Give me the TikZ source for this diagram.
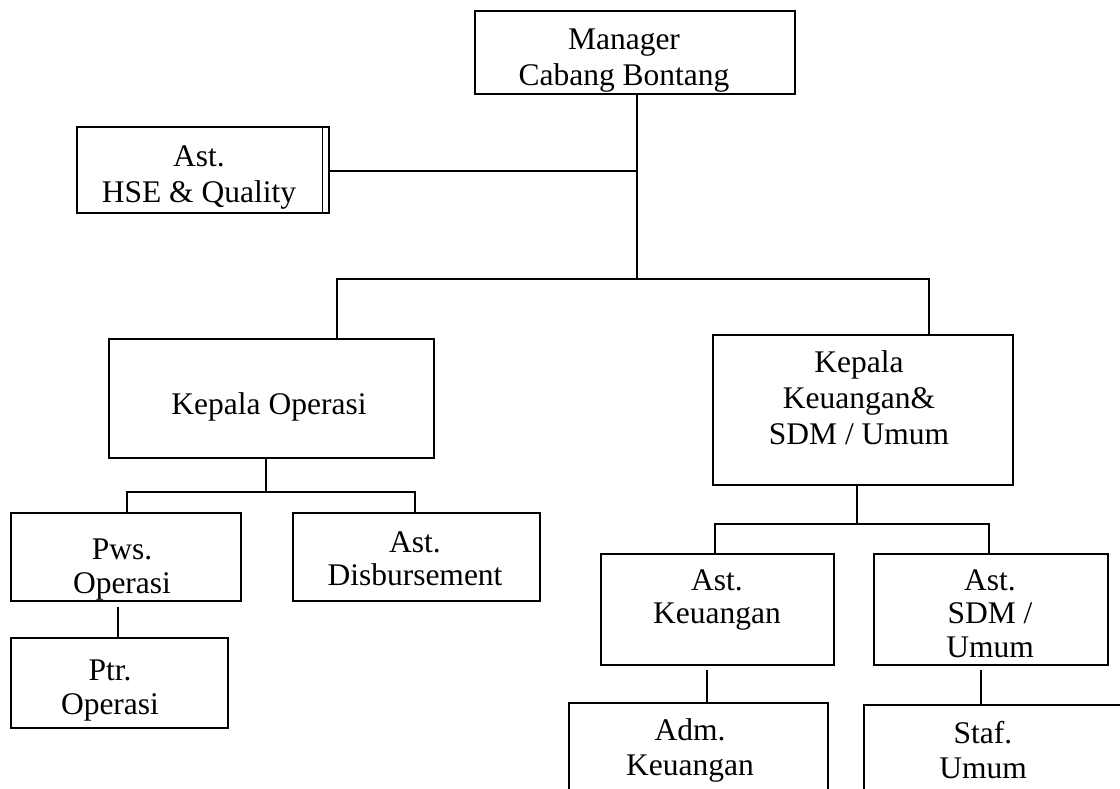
\documentclass[tikz,border=0pt]{standalone}
\usepackage{fontspec}
\setmainfont{Liberation Serif}
\begin{document}
\begin{tikzpicture}[x=1pt,y=-1pt,
  box/.style={draw, line width=1.6pt, inner sep=0pt, anchor=north west},
  txt/.style={align=center, inner sep=0pt, anchor=north},
  sk/.style={font=\fontsize{31.5}{#1}\selectfont},
  conn/.style={line width=1.6pt}]
\useasboundingbox (0,0) rectangle (1120,789);
\clip (0,0) rectangle (1120,789);
% boxes
\node[box, minimum width=320, minimum height=83] (mgr) at (474,10) {};
\node[box, minimum width=252, minimum height=86] (hse) at (76,126) {};
\draw[conn] ([xshift=-7pt]hse.north east) -- ([xshift=-7pt]hse.south east);
\node[box, minimum width=325, minimum height=119] (kop) at (108,338) {};
\node[box, minimum width=300, minimum height=150] (kku) at (712,334) {};
\node[box, minimum width=230, minimum height=88] (pws) at (10,512) {};
\node[box, minimum width=217, minimum height=90] (ptr) at (10,637) {};
\node[box, minimum width=247, minimum height=88] (dis) at (292,512) {};
\node[box, minimum width=233, minimum height=111] (aku) at (600,553) {};
\node[box, minimum width=234, minimum height=111] (asd) at (873,553) {};
\node[box, minimum width=259, minimum height=120] (adm) at (568,702) {};
\node[box, minimum width=280, minimum height=120] (stf) at (863,704) {};
% texts
\node[txt, sk=36] (tmgr) at (624,23.8) {\strut Manager\\\strut Cabang Bontang};
\node[txt, sk=36] (thse) at (199,140.8) {\strut Ast.\\\strut HSE \& Quality};
\node[txt, sk=36] (tkop) at (269,388.8) {\strut Kepala Operasi};
\node[txt, sk=36] (tkku) at (859,346.8) {\strut Kepala\\\strut Keuangan\&\\\strut SDM / Umum};
\node[txt, sk=34] (tpws) at (122,535.2) {\strut Pws.\\\strut Operasi};
\node[txt, sk=34] (tptr) at (110,656.2) {\strut Ptr.\\\strut Operasi};
\node[txt, sk=33] (tdis) at (415,528.9) {\strut Ast.\\\strut Disbursement};
\node[txt, sk=33] (taku) at (717,566.9) {\strut Ast.\\\strut Keuangan};
\node[txt, sk=33.5] (tasd) at (990,566.55) {\strut Ast.\\\strut SDM /\\\strut Umum};
\node[txt, sk=35] (tadm) at (690,715.5) {\strut Adm.\\\strut Keuangan};
\node[txt, sk=35] (tstf) at (983,718.5) {\strut Staf.\\\strut Umum};
% junctions
\coordinate (j1) at (637,279);
\coordinate (jh) at (637,171);
\coordinate (bl) at (337,279);
\coordinate (br) at (929,279);
\coordinate (ko) at (266,492);
\coordinate (kl) at (127,492);
\coordinate (kr) at (415,492);
\coordinate (kk) at (857,524);
\coordinate (kkl) at (715,524);
\coordinate (kkr) at (989,524);
\coordinate (xp) at (118,0);
\coordinate (xa) at (707,0);
\coordinate (xs) at (981,0);
% connectors
\draw[conn] (mgr.south -| j1) -- (j1);
\draw[conn] (hse.east |- jh) -- (jh);
\draw[conn] (kop.north -| bl) -- (bl) -- (br) -- (kku.north -| br);
\draw[conn] (kop.south -| ko) -- (ko);
\draw[conn] (pws.north -| kl) -- (kl) -- (kr) -- (dis.north -| kr);
\draw[conn] ([yshift=-5pt]pws.south -| xp) -- (ptr.north -| xp);
\draw[conn] (kku.south -| kk) -- (kk);
\draw[conn] (aku.north -| kkl) -- (kkl) -- (kkr) -- (asd.north -| kkr);
\draw[conn] ([yshift=-4pt]aku.south -| xa) -- (adm.north -| xa);
\draw[conn] ([yshift=-4pt]asd.south -| xs) -- (stf.north -| xs);
\end{tikzpicture}
\end{document}
